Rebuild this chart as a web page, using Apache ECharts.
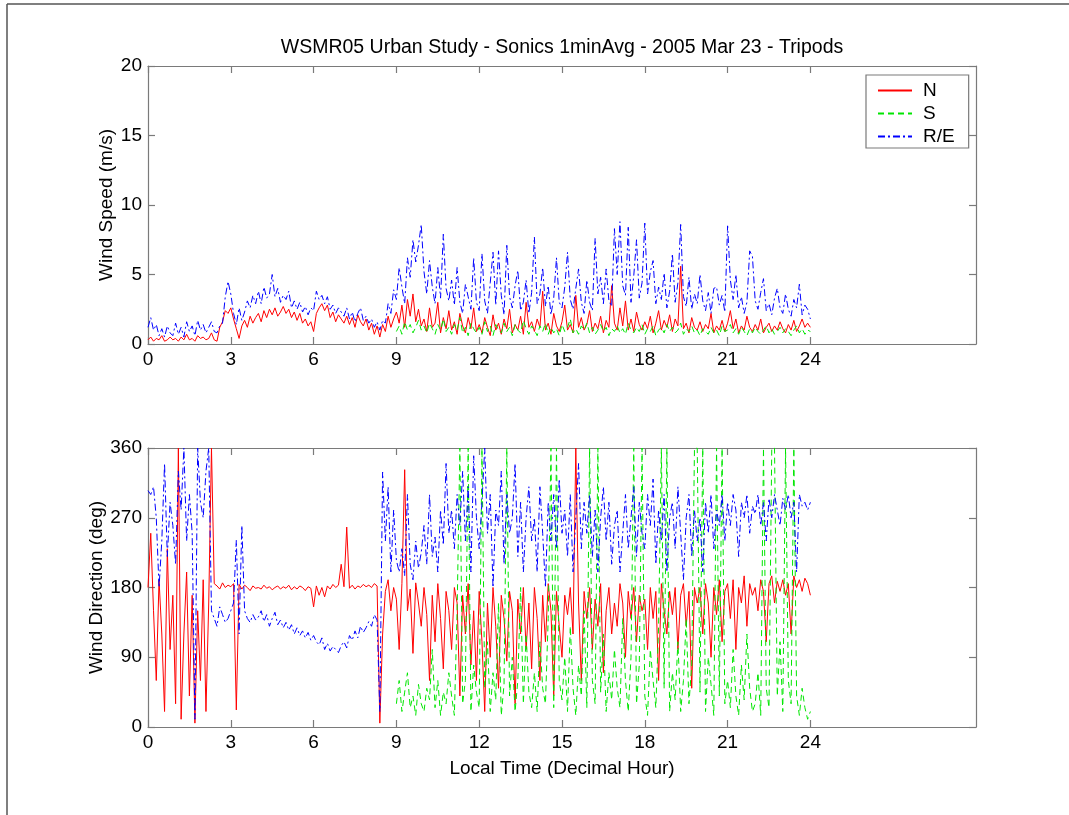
<!DOCTYPE html>
<html>
<head>
<meta charset="utf-8">
<script src="https://cdn.jsdelivr.net/npm/echarts@6/dist/echarts.min.js"></script>
<style>
html,body{margin:0;padding:0;background:#fff;}
#chart{width:1069px;height:815px;}
</style>
</head>
<body>
<div id="chart"></div>
<script>
const STEP = 0.1;
const hourTicks = [0, 3, 6, 9, 12, 15, 18, 21, 24];
const speedTicks = [0, 5, 10, 15, 20];
const dirTicks = [0, 90, 180, 270, 360];
const seriesNames = ['N', 'S', 'R/E'];

const startN = 0, startS = 9, startRE = 0;

const speedN = [
0.3,0.5,0.2,0.4,0.3,0.6,0.2,0.3,0.5,0.3,
0.4,0.2,0.5,0.3,0.7,0.3,0.4,0.2,0.6,0.4,
0.5,0.3,0.4,0.8,0.3,0.2,1.2,1.6,2.4,2.2,
2.6,1.8,1.1,0.4,1.3,1.7,1.2,2.0,1.5,1.9,
2.2,1.6,2.4,1.9,2.5,2.1,2.6,2.0,2.3,2.7,
2.2,2.5,1.9,2.3,1.7,2.2,1.5,1.8,1.3,1.6,
0.9,2.2,2.6,2.9,2.4,2.8,1.9,2.3,1.6,2.1,
1.8,1.5,2.0,1.4,1.9,1.2,2.1,1.6,1.3,1.8,
1.0,1.5,0.7,1.3,0.5,1.4,0.9,2.0,1.2,1.8,
2.3,1.5,2.8,1.2,3.2,2.0,3.6,1.6,2.5,1.3,
1.8,0.9,2.6,1.2,1.5,3.0,0.8,1.9,1.1,2.4,
1.0,1.6,0.7,2.2,1.3,0.8,1.9,1.1,2.6,0.9,
1.4,0.8,1.9,1.2,0.6,2.1,1.0,1.5,0.7,1.8,
1.1,2.5,0.8,1.4,1.0,2.0,0.7,3.0,1.2,1.6,
0.9,1.8,1.2,3.8,1.0,1.5,0.7,2.2,1.3,0.9,
1.6,2.8,1.0,1.4,0.8,3.5,1.2,1.9,1.0,1.4,
2.4,0.9,1.5,1.1,2.0,0.8,1.7,1.2,4.2,1.5,
1.0,2.6,1.3,3.1,1.0,1.8,0.9,2.3,1.4,1.0,
1.6,1.1,2.0,0.8,1.5,2.4,1.0,1.7,1.2,2.1,
0.9,1.8,1.3,5.6,1.1,1.5,0.8,1.9,1.2,1.0,
1.6,0.9,1.4,1.1,2.2,0.8,1.3,1.0,1.7,0.9,
1.5,2.4,1.1,1.8,0.8,1.3,1.0,2.0,1.2,0.9,
1.4,1.0,1.8,0.8,1.2,1.5,0.9,1.3,1.0,1.6,
1.1,0.8,1.4,1.0,1.7,0.9,1.3,1.8,1.2,1.5,
1.2];

const speedS = [
0.9,1.3,0.7,1.6,1.0,1.4,0.8,1.2,1.7,1.0,
1.3,0.8,1.5,1.1,0.7,1.4,1.0,1.8,0.9,1.2,
0.7,1.4,1.0,1.9,0.8,1.2,0.6,1.5,1.1,0.8,
1.2,0.7,1.6,0.9,1.3,0.6,1.4,1.0,0.8,1.5,
0.9,1.2,0.6,1.4,1.0,0.8,1.7,1.1,0.7,1.3,
1.0,0.6,1.3,0.9,1.5,0.7,1.2,0.8,1.1,0.6,
1.4,0.9,1.2,1.8,0.8,1.1,0.7,1.3,1.0,1.5,
0.8,1.2,0.7,1.0,1.4,0.9,1.2,0.6,1.1,0.9,
1.3,0.8,1.1,0.7,1.5,1.0,0.8,1.2,0.9,1.4,
0.7,1.1,0.9,1.3,0.6,1.0,1.2,0.8,1.4,0.9,
1.2,0.8,1.0,1.5,0.7,1.1,0.9,1.3,0.8,1.0,
0.6,1.1,0.9,0.7,1.2,0.8,1.0,0.6,1.3,0.9,
1.0,1.4,0.8,1.1,0.7,1.2,0.9,0.6,1.1,0.8,
1.2,0.9,0.7,1.0,1.3,0.8,1.1,0.7,0.9,1.2,
0.8,1.1,0.9,0.6,1.0,1.3,0.8,1.1,0.7,1.0,
0.9];

const speedRE = [
1.2,1.9,1.0,1.4,0.6,1.1,0.5,1.3,0.8,0.6,
1.5,0.7,1.2,0.5,1.6,0.9,1.3,0.6,1.7,1.0,
1.4,0.8,1.2,1.6,0.9,0.8,1.3,1.5,3.4,4.5,
3.6,2.2,1.4,2.6,1.7,2.3,3.1,2.6,3.5,2.9,
3.8,2.9,4.1,3.3,3.6,5.0,3.4,4.0,3.0,3.5,
3.2,3.8,2.6,3.1,2.5,3.0,2.3,2.7,2.1,2.6,
2.4,3.8,3.2,3.5,2.9,3.4,2.5,2.8,2.2,2.6,
2.3,2.0,2.6,1.8,2.3,1.6,2.2,2.6,1.7,2.0,
1.5,1.8,1.2,1.6,1.0,1.7,1.5,2.9,2.2,3.9,
3.2,5.5,4.1,2.9,6.2,4.8,7.5,5.9,7.1,8.6,
5.2,3.6,6.0,4.1,2.9,5.5,3.3,7.9,4.0,3.1,
4.6,2.8,5.5,3.0,2.2,4.3,3.4,2.5,6.2,3.0,
2.4,6.5,3.1,2.2,4.4,6.6,2.8,6.7,3.5,2.1,
7.1,3.4,2.6,4.2,5.3,2.4,3.0,4.6,2.2,3.7,
7.7,2.9,3.6,5.5,2.7,4.2,2.1,3.3,6.2,3.0,
2.6,4.1,6.6,3.2,2.5,4.0,5.4,3.0,2.2,4.6,
3.0,2.4,7.6,3.6,4.8,2.9,5.4,3.1,2.7,8.3,
5.0,8.8,4.2,3.5,8.4,3.0,4.9,7.5,3.3,4.4,
8.7,3.6,5.2,6.0,2.9,4.1,3.2,5.1,2.6,3.8,
6.5,3.0,4.4,8.6,3.4,2.7,4.8,2.5,3.6,2.9,
5.0,3.1,2.4,3.7,2.2,4.0,4.1,2.8,3.5,2.3,
8.5,4.6,3.2,5.0,2.6,3.4,2.2,3.0,6.7,6.3,
3.1,2.5,3.7,4.7,2.4,2.9,2.1,3.3,4.0,2.6,
2.2,3.6,2.5,2.0,3.2,2.6,4.3,2.1,2.8,2.5,
1.8];

const dirN = [
180,250,150,60,190,120,20,230,100,170,
30,360,10,120,200,40,170,5,150,60,
190,20,160,360,185,182,178,186,180,183,
181,185,22,184,178,183,180,176,182,179,
180,178,183,179,181,177,180,182,178,181,
179,183,177,181,178,182,180,176,181,179,
155,182,170,180,168,182,178,184,180,183,
210,181,258,179,183,178,182,180,184,181,
183,180,185,182,5,120,175,190,150,180,
165,100,185,332,150,178,95,186,160,130,
180,145,60,170,110,185,140,75,175,150,
100,180,160,40,170,120,185,80,150,60,
175,110,20,160,90,180,130,50,170,140,
85,175,150,30,165,120,180,100,160,75,
180,140,60,170,110,185,150,40,175,130,
90,170,145,180,120,360,160,60,175,140,
180,100,165,130,185,70,150,180,120,160,
130,185,160,90,175,140,180,110,170,150,
165,100,180,140,175,60,185,150,120,175,
145,180,100,170,185,130,175,50,180,160,
180,120,185,160,90,180,145,190,110,175,
185,140,190,100,180,160,195,130,185,170,
180,150,190,175,110,185,195,160,188,175,
190,170,185,120,195,180,190,175,192,185,
170];

const dirS = [
30,60,20,45,70,25,40,15,55,30,
20,50,35,100,25,60,15,45,30,70,
40,15,150,360,30,60,360,20,80,45,
25,360,50,110,20,70,35,160,15,55,
360,40,90,20,60,180,30,120,45,25,
70,20,110,50,30,140,360,25,360,60,
35,90,20,130,50,15,80,40,150,25,
360,60,30,360,45,120,20,70,35,100,
50,25,140,60,20,90,360,30,80,360,
40,15,100,60,25,130,360,50,360,20,
70,35,110,20,60,140,30,80,360,360,
45,360,20,90,55,15,360,40,360,30,
60,25,100,40,15,80,35,120,50,20,
30,70,15,360,50,25,360,360,40,110,
20,360,60,30,360,40,15,50,25,10,
20];

const dirRE = [
305,300,310,270,180,240,340,220,290,260,
210,330,280,360,240,300,250,10,360,290,
270,330,360,150,140,130,155,145,135,140,
150,160,241,120,260,150,140,135,145,138,
142,150,136,145,130,140,148,132,138,128,
135,125,132,120,128,118,124,115,122,112,
118,110,106,115,100,108,98,104,100,96,
105,110,102,118,112,124,115,130,122,128,
136,130,145,138,20,329,240,310,200,280,
215,200,230,195,300,210,190,240,205,225,
260,210,300,220,245,200,280,235,340,250,
280,230,300,260,330,240,310,200,350,270,
230,290,360,250,300,180,280,260,330,210,
300,250,270,340,220,290,200,270,310,240,
270,200,310,250,180,290,240,300,230,320,
250,280,220,300,200,270,340,230,290,250,
300,220,280,200,270,310,240,290,210,260,
280,200,250,300,230,270,310,220,290,250,
230,300,260,320,210,280,240,300,200,270,
290,230,310,250,190,270,300,220,280,240,
270,200,290,250,300,230,280,260,300,240,
290,260,300,280,220,290,270,300,250,285,
275,300,260,290,240,295,270,300,280,260,
295,280,300,270,290,200,300,285,290,280,
290];

// ---- build ----
function pairs(start, arr) {
  return arr.map((v, i) => [Math.round((start + i * STEP) * 100) / 100, v]);
}

const FONT = "'Liberation Sans', Arial, sans-serif";
const FS = 19;
const FRAME = '#7a7a7a';
const colors = { N: '#ff0000', S: '#00e600', 'R/E': '#0000ff' };
const dashes = { N: 'solid', S: [6, 4], 'R/E': [7, 3, 2, 3] };

function xAx(grid, pos, withLabels, name) {
  return {
    type: 'value', gridIndex: grid, position: pos, min: 0, max: 30,
    axisLine: { show: true, onZero: false, lineStyle: { color: FRAME, width: 1.2 } },
    axisTick: { show: true, inside: true, length: 7, customValues: hourTicks, lineStyle: { color: FRAME, width: 1.2 } },
    axisLabel: { show: withLabels, customValues: hourTicks, color: '#000', fontSize: FS, fontFamily: FONT, margin: 6 },
    splitLine: { show: false },
    name: name || '', nameLocation: 'middle', nameGap: 32, nameMoveOverlap: false,
    nameTextStyle: { color: '#000', fontSize: FS, fontFamily: FONT, verticalAlign: 'top' }
  };
}
function yAx(grid, pos, max, interval, withLabels, name, gap) {
  return {
    type: 'value', gridIndex: grid, position: pos, min: 0, max: max, interval: interval,
    axisLine: { show: true, onZero: false, lineStyle: { color: FRAME, width: 1.2 } },
    axisTick: { show: true, inside: true, length: 7, lineStyle: { color: FRAME, width: 1.2 } },
    axisLabel: { show: withLabels, color: '#000', fontSize: FS, fontFamily: FONT, margin: 6 },
    splitLine: { show: false },
    name: name || '', nameLocation: 'middle', nameGap: gap || 30, nameMoveOverlap: false,
    nameTextStyle: { color: '#000', fontSize: FS, fontFamily: FONT }
  };
}

function line(name, x, y, data) {
  return {
    name: name, type: 'line', xAxisIndex: x, yAxisIndex: y, data: data,
    showSymbol: false, symbol: 'none', animation: false, clip: true,
    lineStyle: { color: colors[name], width: 1, type: dashes[name] },
    itemStyle: { color: colors[name] }
  };
}

const option = {
  animation: false,
  backgroundColor: '#fff',
  title: {
    text: 'WSMR05 Urban Study - Sonics 1minAvg - 2005 Mar 23 - Tripods',
    left: 557, top: 33, textAlign: 'center',
    textStyle: { fontSize: 19.5, fontWeight: 'normal', color: '#000', fontFamily: FONT }
  },
  legend: {
    data: seriesNames.map(n => ({ name: n })),
    orient: 'vertical', left: 866, top: 75,
    padding: [6, 14, 2, 11], itemGap: 4, itemWidth: 34, itemHeight: 14,
    backgroundColor: '#fff', borderColor: FRAME, borderWidth: 1.2,
    itemStyle: { opacity: 0 },
    textStyle: { fontSize: FS, lineHeight: 19, color: '#000', fontFamily: FONT, padding: [0, 0, 0, 6] }
  },
  grid: [
    { left: 148, right: 93, top: 66, bottom: 471 },
    { left: 148, right: 93, top: 448, bottom: 88 }
  ],
  xAxis: [
    xAx(0, 'bottom', true),
    xAx(0, 'top', false),
    xAx(1, 'bottom', true, 'Local Time (Decimal Hour)'),
    xAx(1, 'top', false)
  ],
  yAxis: [
    yAx(0, 'left', 20, 5, true, 'Wind Speed (m/s)', 32),
    yAx(0, 'right', 20, 5, false),
    yAx(1, 'left', 360, 90, true, 'Wind Direction (deg)', 42),
    yAx(1, 'right', 360, 90, false)
  ],
  graphic: [
    { type: 'line', shape: { x1: 7, y1: 4, x2: 1069, y2: 4 }, style: { stroke: '#555', lineWidth: 1.5 }, silent: true },
    { type: 'line', shape: { x1: 7, y1: 4, x2: 7, y2: 815 }, style: { stroke: '#555', lineWidth: 1.5 }, silent: true }
  ],
  series: [
    line('N', 0, 0, pairs(startN, speedN)),
    line('S', 0, 0, pairs(startS, speedS)),
    line('R/E', 0, 0, pairs(startRE, speedRE)),
    line('N', 2, 2, pairs(startN, dirN)),
    line('S', 2, 2, pairs(startS, dirS)),
    line('R/E', 2, 2, pairs(startRE, dirRE))
  ]
};

const chart = echarts.init(document.getElementById('chart'), null, { renderer: 'canvas' });
chart.setOption(option);
</script>
</body>
</html>
